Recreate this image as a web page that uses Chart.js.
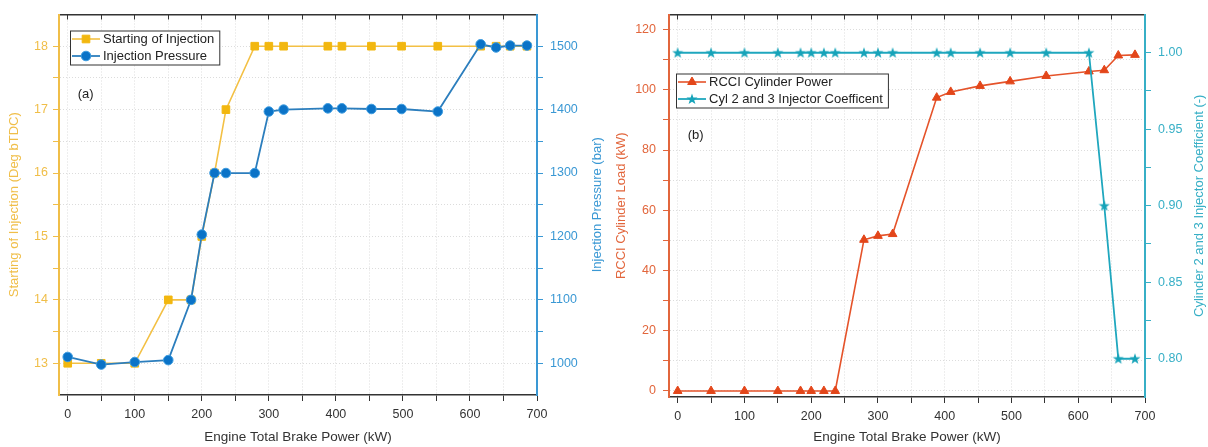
<!DOCTYPE html>
<html lang="en">
<head>
<meta charset="utf-8"/>
<title>Injection strategy vs brake power</title>
<script src="https://cdn.jsdelivr.net/npm/chart.js"></script>
<style>
  body { margin: 0; background: #fff; }
  #wrap { position: relative; width: 1208px; height: 447px; }
  canvas { position: absolute; top: 0; }
  #chartA { left: 0; }
  #chartB { left: 600px; }
</style>
</head>
<body>
<div id="wrap">
  <canvas id="chartA" width="612" height="447"></canvas>
  <canvas id="chartB" width="608" height="447"></canvas>
</div>
<script>
// engine total brake power (kW), same operating points in both panels
var power = [0, 50, 100, 150, 184, 200, 219, 236, 279, 300, 322, 388, 409, 453, 498, 552, 616, 639, 660, 685];

// panel (a)
var soi = [13, 13, 13, 14, 14, 15, 16, 17, 18, 18, 18, 18, 18, 18, 18, 18, 18, 18, 18, 18];
var pressure = [1010, 998, 1002, 1005, 1100, 1203, 1300, 1300, 1300, 1397, 1400, 1402, 1402, 1401, 1401, 1397, 1503, 1498, 1501, 1501];

// panel (b)
var rcciLoad = [0, 0, 0, 0, 0, 0, 0, 0, 50.2, 51.5, 52.1, 97.4, 99.3, 101.3, 102.8, 104.6, 106.1, 106.5, 111.4, 111.6];
var injCoef = [1, 1, 1, 1, 1, 1, 1, 1, 1, 1, 1, 1, 1, 1, 1, 1, 1, 0.9, 0.8, 0.8];

// ticks (labelled ones are the whole steps, the rest are minor)
var powerTicks = [0, 50, 100, 150, 200, 250, 300, 350, 400, 450, 500, 550, 600, 650, 700];
var soiTicks = [13, 13.5, 14, 14.5, 15, 15.5, 16, 16.5, 17, 17.5, 18];
var pressureTicks = [1000, 1050, 1100, 1150, 1200, 1250, 1300, 1350, 1400, 1450, 1500];
var loadTicks = [0, 10, 20, 30, 40, 50, 60, 70, 80, 90, 100, 110, 120];
var coefTicks = [0.8, 0.825, 0.85, 0.875, 0.9, 0.925, 0.95, 0.975, 1.0];

var FONT = '"Liberation Sans", Arial, sans-serif';
Chart.defaults.font.family = FONT;

var YELLOW = '#F2B70F', YELLOW_AX = '#F0BE48';
var BLUE = '#0B73C7', BLUE_AX = '#3A98D4';
var ORANGE = '#E3461A', ORANGE_AX = '#E2663C';
var CYAN = '#16A3B9', CYAN_AX = '#37AFC6';
var GRID = '#dcdcdc', DARK = '#333';

function pts(ys) {
    return power.map(function (p, i) { return {x: p, y: ys[i]}; });
}
function fixedTicks(values) {
    return function (scale) { scale.ticks = values.map(function (v) { return {value: v}; }); };
}
function fitWidth(w) { return function (scale) { scale.width = w; }; }
function fitHeight(h) { return function (scale) { scale.height = h; }; }

// filled five point star for the coefficient series
function makeStar(color) {
    var c = document.createElement('canvas');
    c.width = 12; c.height = 12;
    var g = c.getContext('2d');
    g.beginPath();
    for (var i = 0; i < 10; i++) {
        var r = i % 2 ? 2.3 : 5.8;
        var a = -Math.PI / 2 + i * Math.PI / 5;
        g.lineTo(6 + r * Math.cos(a), 6.4 + r * Math.sin(a));
    }
    g.closePath();
    g.fillStyle = color;
    g.fill();
    return c;
}
var starImg = makeStar(CYAN);

function drawMarker(ctx, ds, x, y) {
    var s = ds.pointStyle, r = ds.pointRadius;
    ctx.fillStyle = ds.pointBackgroundColor;
    ctx.strokeStyle = ds.pointBorderColor;
    ctx.lineWidth = ds.pointBorderWidth || 1;
    ctx.beginPath();
    if (s === 'rect') {
        var h = r * Math.SQRT1_2;
        ctx.rect(x - h, y - h, 2 * h, 2 * h);
    } else if (s === 'circle') {
        ctx.arc(x, y, r, 0, Math.PI * 2);
    } else if (s === 'triangle') {
        ctx.moveTo(x, y - r);
        ctx.lineTo(x + r * 0.866, y + r / 2);
        ctx.lineTo(x - r * 0.866, y + r / 2);
        ctx.closePath();
    } else {
        ctx.drawImage(s, x - s.width / 2, y - s.height / 2);
        return;
    }
    ctx.fill();
    ctx.stroke();
}

// legend box inside the plot, panel letter, and the right axis title
// (written bottom-to-top like the left one, which chart.js won't do on the right)
var boxLegend = {
    id: 'boxLegend',
    afterDraw: function (chart, args, opts) {
        var ctx = chart.ctx, area = chart.chartArea;
        var x0 = area.left + opts.dx, y0 = area.top + opts.dy;
        var rowH = 17;
        ctx.save();
        ctx.font = '13px ' + FONT;
        var textW = 0;
        chart.data.datasets.forEach(function (ds) {
            textW = Math.max(textW, ctx.measureText(ds.label).width);
        });
        var w = 34 + textW + 4, h = rowH * chart.data.datasets.length;
        ctx.fillStyle = '#fff';
        ctx.fillRect(x0, y0, w, h);
        ctx.strokeStyle = DARK;
        ctx.lineWidth = 1;
        ctx.strokeRect(x0 + 0.5, y0 + 0.5, w, h);
        chart.data.datasets.forEach(function (ds, i) {
            var cy = y0 + rowH * (i + 0.5);
            ctx.beginPath();
            ctx.strokeStyle = ds.borderColor;
            ctx.lineWidth = ds.borderWidth;
            ctx.moveTo(x0 + 2, cy);
            ctx.lineTo(x0 + 30, cy);
            ctx.stroke();
            drawMarker(ctx, ds, x0 + 16, cy);
            ctx.fillStyle = '#222';
            ctx.textBaseline = 'middle';
            ctx.textAlign = 'left';
            ctx.fillText(ds.label, x0 + 33, cy + 0.5);
        });
        // panel letter, placed in data units
        var sx = chart.scales.x, sy = chart.scales.y;
        ctx.fillStyle = '#222';
        ctx.fillText(opts.panel, sx.getPixelForValue(opts.panelX), sy.getPixelForValue(opts.panelY));

        var y1 = chart.scales.y1;
        ctx.translate(y1.right - opts.titleInset, (area.top + area.bottom) / 2);
        ctx.rotate(-Math.PI / 2);
        ctx.textAlign = 'center';
        ctx.fillStyle = y1.options.ticks.color;
        ctx.fillText(opts.rightTitle, 0, 0);
        ctx.restore();
    }
};

function xScales(bottomH, topH) {
    return {
        x: {
            type: 'linear', position: 'bottom', min: -13, max: 700,
            afterBuildTicks: fixedTicks(powerTicks), afterFit: fitHeight(bottomH),
            ticks: {color: DARK, font: {size: 12.5}, padding: 6, autoSkip: false, maxRotation: 0,
                callback: function (v) { return v % 100 === 0 ? v : ''; }},
            grid: {color: GRID, tickColor: DARK, tickLength: 6},
            border: {color: DARK, width: 1.5, dash: [1, 2]},
            title: {display: true, text: 'Engine Total Brake Power (kW)', color: DARK,
                font: {size: 13.5}, padding: {top: 0, bottom: 2}}
        },
        xTop: {
            type: 'linear', position: 'top', min: -13, max: 700,
            afterBuildTicks: fixedTicks(powerTicks), afterFit: fitHeight(topH),
            ticks: {display: false},
            grid: {drawOnChartArea: false, tickColor: DARK, tickLength: -5},
            border: {color: DARK, width: 1.5}
        }
    };
}

var scalesA = xScales(52, 9);
scalesA.y = {
    type: 'linear', position: 'left', min: 12.5, max: 18.5,
    afterBuildTicks: fixedTicks(soiTicks), afterFit: fitWidth(59),
    ticks: {color: YELLOW_AX, font: {size: 12.5}, padding: 5, autoSkip: false,
        callback: function (v) { return v % 1 === 0 ? v : ''; }},
    grid: {color: GRID, tickColor: YELLOW_AX, tickLength: 6},
    border: {color: YELLOW_AX, width: 2, dash: [1, 2]},
    title: {display: true, text: 'Starting of Injection (Deg bTDC)', color: YELLOW_AX,
        font: {size: 13}, padding: {top: 7, bottom: 0}}
};
scalesA.y1 = {
    type: 'linear', position: 'right', min: 950, max: 1550,
    afterBuildTicks: fixedTicks(pressureTicks), afterFit: fitWidth(75),
    ticks: {color: BLUE_AX, font: {size: 12.5}, padding: 7, autoSkip: false,
        callback: function (v) { return v % 100 === 0 ? v : ''; }},
    grid: {drawOnChartArea: false, tickColor: BLUE_AX, tickLength: 6},
    border: {color: BLUE_AX, width: 2}
};

new Chart(document.getElementById('chartA'), {
    type: 'line',
    data: {
        datasets: [
            {
                label: 'Starting of Injection', data: pts(soi), yAxisID: 'y', order: 2,
                borderColor: '#F3C044', borderWidth: 1.6,
                pointStyle: 'rect', pointRadius: 5.4,
                pointBackgroundColor: YELLOW, pointBorderColor: YELLOW, pointBorderWidth: 1
            },
            {
                label: 'Injection Pressure', data: pts(pressure), yAxisID: 'y1', order: 1,
                borderColor: '#2C7EBD', borderWidth: 1.8,
                pointStyle: 'circle', pointRadius: 4.8,
                pointBackgroundColor: BLUE, pointBorderColor: '#3D9CE0', pointBorderWidth: 1
            }
        ]
    },
    options: {
        responsive: false,
        animation: false,
        layout: {padding: 0},
        plugins: {
            legend: {display: false},
            tooltip: {enabled: false},
            boxLegend: {dx: 11, dy: 16, panel: '(a)', panelX: 15, panelY: 17.24,
                rightTitle: 'Injection Pressure (bar)', titleInset: 15}
        },
        scales: scalesA
    },
    plugins: [boxLegend]
});

var scalesB = xScales(50, 12);
scalesB.y = {
    type: 'linear', position: 'left', min: -2, max: 125,
    afterBuildTicks: fixedTicks(loadTicks), afterFit: fitWidth(69),
    ticks: {color: ORANGE_AX, font: {size: 12.5}, padding: 7, autoSkip: false,
        callback: function (v) { return v % 20 === 0 ? v : ''; }},
    grid: {color: GRID, tickColor: ORANGE_AX, tickLength: 6},
    border: {color: ORANGE_AX, width: 2, dash: [1, 2]},
    title: {display: true, text: 'RCCI Cylinder Load (kW)', color: ORANGE_AX,
        font: {size: 13}, padding: {top: 14, bottom: 0}}
};
scalesB.y1 = {
    type: 'linear', position: 'right', min: 0.775, max: 1.025,
    afterBuildTicks: fixedTicks(coefTicks), afterFit: fitWidth(63),
    ticks: {color: CYAN_AX, font: {size: 12.5}, padding: 7, autoSkip: false,
        callback: function (v) {
            var k = Math.round(v * 1000);
            return k % 50 === 0 ? v.toFixed(2) : '';
        }},
    grid: {drawOnChartArea: false, tickColor: CYAN_AX, tickLength: 6},
    border: {color: CYAN_AX, width: 2}
};

new Chart(document.getElementById('chartB'), {
    type: 'line',
    data: {
        datasets: [
            {
                label: 'RCCI Cylinder Power', data: pts(rcciLoad), yAxisID: 'y', order: 2,
                borderColor: '#E5532A', borderWidth: 1.6,
                pointStyle: 'triangle', pointRadius: 5,
                pointBackgroundColor: ORANGE, pointBorderColor: ORANGE, pointBorderWidth: 1
            },
            {
                label: 'Cyl 2 and 3 Injector Coefficent', data: pts(injCoef), yAxisID: 'y1', order: 1,
                borderColor: '#1FA7BE', borderWidth: 1.8,
                pointStyle: starImg, pointRadius: 5,
                pointBackgroundColor: CYAN, pointBorderColor: CYAN, pointBorderWidth: 1
            }
        ]
    },
    options: {
        responsive: false,
        animation: false,
        layout: {padding: 0},
        plugins: {
            legend: {display: false},
            tooltip: {enabled: false},
            boxLegend: {dx: 7, dy: 59, panel: '(b)', panelX: 15, panelY: 85,
                rightTitle: 'Cylinder 2 and 3 Injector Coefficient (-)', titleInset: 9}
        },
        scales: scalesB
    },
    plugins: [boxLegend]
});
</script>
</body>
</html>
